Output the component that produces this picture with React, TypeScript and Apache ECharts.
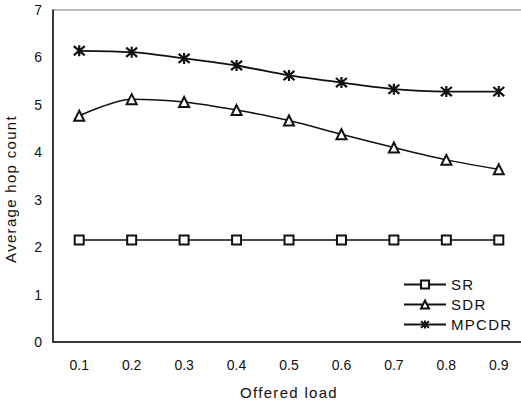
import React, { useEffect, useRef } from "react";
import * as echarts from "echarts";

const categories = ["0.1", "0.2", "0.3", "0.4", "0.5", "0.6", "0.7", "0.8", "0.9"];
const srValues = [2.15, 2.15, 2.15, 2.15, 2.15, 2.15, 2.15, 2.15, 2.15];
const sdrValues = [4.77, 5.12, 5.06, 4.89, 4.67, 4.38, 4.1, 3.84, 3.64];
const mpcdrValues = [6.14, 6.11, 5.98, 5.83, 5.62, 5.47, 5.33, 5.28, 5.28];
const seriesNames = ["SR", "SDR", "MPCDR"];

const asterisk = "path://M0,0 L10,10 M10,0 L0,10 M5,-1 L5,11";

export default function App() {
  const ref = useRef<HTMLDivElement>(null);
  useEffect(() => {
    if (!ref.current) return;
    const chart = echarts.init(ref.current, null, { renderer: "svg" });
    const font = "Liberation Sans, Arial, sans-serif";
    chart.setOption({
      animation: false,
      backgroundColor: "#fff",
      textStyle: { fontFamily: font, color: "#111" },
      grid: {
        left: 53,
        top: 10,
        bottom: 62,
        width: 472,
        show: true,
        borderColor: "#777",
        borderWidth: 1,
        outerBoundsMode: "none",
        containLabel: false,
      },
      legend: {
        orient: "vertical",
        left: 398,
        top: 272,
        itemWidth: 42,
        itemHeight: 10,
        itemGap: 5,
        textStyle: { fontSize: 15, color: "#111", fontFamily: font },
        data: seriesNames,
      },
      xAxis: {
        type: "category",
        data: categories,
        name: "Offered load",
        nameLocation: "middle",
        nameGap: 43,
        nameTextStyle: { fontSize: 15, color: "#111" },
        axisTick: { show: false },
        axisLine: { lineStyle: { color: "#111", width: 1.5 } },
        axisLabel: { fontSize: 14, color: "#111", margin: 16 },
      },
      yAxis: {
        type: "value",
        min: 0,
        max: 7,
        interval: 1,
        name: "Average hop count",
        nameLocation: "middle",
        nameGap: 35,
        nameTextStyle: { fontSize: 15, color: "#111", padding: [0, 26, 0, 0] },
        axisLine: { show: true, lineStyle: { color: "#111", width: 1.5 } },
        axisTick: { show: false },
        splitLine: { show: false },
        axisLabel: { fontSize: 14, color: "#111", margin: 11 },
      },
      series: [
        {
          name: "SR",
          type: "line",
          data: srValues,
          symbol: "emptyRect",
          symbolSize: 9,
          lineStyle: { color: "#111", width: 1.5 },
          itemStyle: { color: "#111", borderWidth: 1.5 },
        },
        {
          name: "SDR",
          type: "line",
          data: sdrValues,
          smooth: 0.3,
          symbol: "emptyTriangle",
          symbolSize: 10,
          lineStyle: { color: "#111", width: 1.5 },
          itemStyle: { color: "#111", borderWidth: 1.5 },
        },
        {
          name: "MPCDR",
          type: "line",
          data: mpcdrValues,
          smooth: 0.3,
          symbol: asterisk,
          symbolSize: 11,
          lineStyle: { color: "#111", width: 1.8 },
          itemStyle: { color: "#111", borderColor: "#111", borderWidth: 2.2 },
        },
      ],
    });
    return () => chart.dispose();
  }, []);
  return (
    <>
      <style>{`#chart text[style*="15px"] { letter-spacing: 1.3px; }`}</style>
      <div id="chart" ref={ref} style={{ position: "fixed", left: 0, top: 0, width: 521, height: 404 }} />
    </>
  );
}
